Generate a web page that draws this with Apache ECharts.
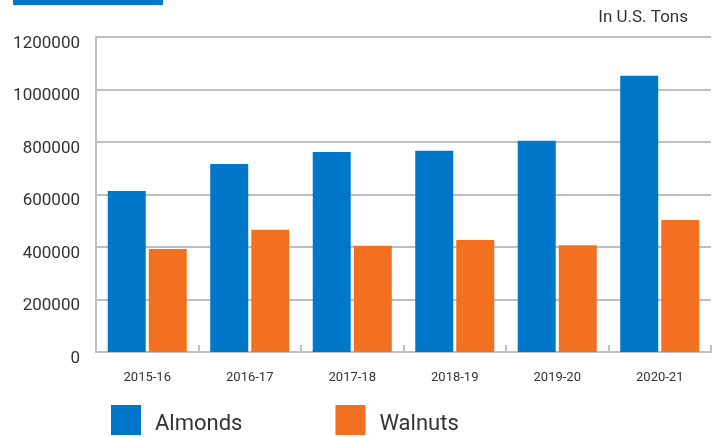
<!DOCTYPE html>
<html>
<head>
<meta charset="utf-8">
<script src="https://cdn.jsdelivr.net/npm/echarts@6/dist/echarts.min.js"></script>
<style>
  html, body { margin: 0; padding: 0; background: #fff; }
  #chart { width: 712px; height: 437px; }
</style>
</head>
<body>
<div id="chart"></div>
<script>
// 数据
const seasons = ['2015-16', '2016-17', '2017-18', '2018-19', '2019-20', '2020-21'];
const almonds = [613000, 716000, 762000, 767000, 805000, 1052000];
const walnuts = [392000, 466000, 405000, 427000, 407000, 503000];
const legendNames = ['Almonds', 'Walnuts'];

const myChart = echarts.init(document.getElementById('chart'));
const option = {
  animation: false,
  textStyle: { fontFamily: 'Roboto' },
  grid: {
    left: 96,
    right: 1,
    top: 37,
    bottom: 85
  },
  graphic: [
    {
      type: 'rect',
      shape: { x: 13, y: 0, width: 150, height: 5 },
      style: { fill: '#0077c8' }
    },
    {
      type: 'text',
      right: 24,
      top: 9,
      style: { text: 'In U.S. Tons', fill: '#333', font: '17px Roboto' }
    }
  ],
  legend: {
    data: legendNames,
    left: 111,
    top: 405,
    padding: 0,
    itemWidth: 30,
    itemHeight: 30,
    itemGap: 93,
    icon: 'rect',
    formatter: '{t|{name}}',
    textStyle: {
      color: '#333',
      fontSize: 22,
      rich: {
        // 文字稍微往下、往右
        t: { fontSize: 22, color: '#333', padding: [8, 0, 0, 9] }
      }
    }
  },
  xAxis: {
    type: 'category',
    data: seasons,
    axisLine: {
      lineStyle: { color: '#bfbfc3', width: 2 }
    },
    axisTick: {
      show: true,
      inside: true,
      length: 7,
      lineStyle: { color: '#bfbfc3', width: 2 }
    },
    axisLabel: {
      color: '#333',
      fontSize: 13,
      margin: 19
    }
  },
  yAxis: {
    type: 'value',
    min: 0,
    max: 1200000,
    interval: 200000,
    axisLine: {
      show: true,
      lineStyle: { color: '#bfbfc3', width: 2 }
    },
    axisTick: { show: false },
    axisLabel: {
      color: '#333',
      fontSize: 17,
      margin: 16,
      verticalAlign: 'top', // 标签比网格线略低
      lineHeight: 13,
      formatter: function (v) { return String(v); } // 不要千分位逗号
    },
    splitLine: {
      lineStyle: { color: '#bfbfc3', width: 2 }
    }
  },
  series: [
    {
      name: legendNames[0],
      type: 'bar',
      barWidth: 38,
      barGap: '8%',
      itemStyle: { color: '#0077c8' },
      data: almonds
    },
    {
      name: legendNames[1],
      type: 'bar',
      barWidth: 38,
      barGap: '8%',
      itemStyle: { color: '#f37021' },
      data: walnuts
    }
  ]
};
myChart.setOption(option);
</script>
</body>
</html>
